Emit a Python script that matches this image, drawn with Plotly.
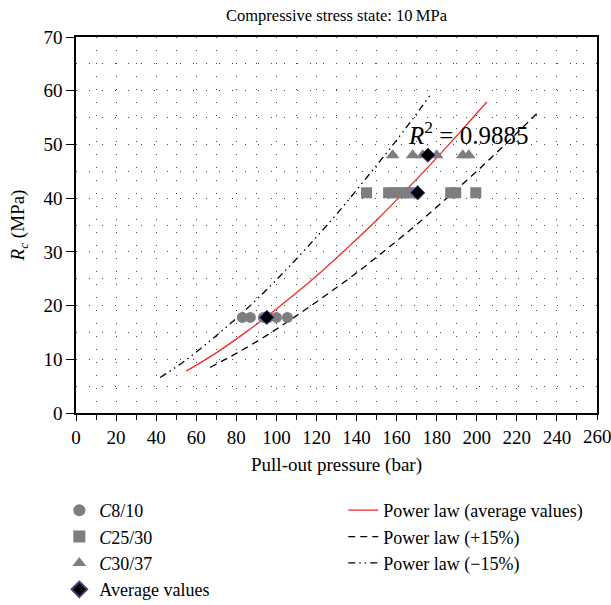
import plotly.graph_objects as go

# ---- data ----
c8_x = [83, 87, 93.5, 96, 100, 105.5]
c8_y = [17.8, 17.8, 17.8, 17.8, 17.8, 17.8]

c25_x = [145, 156, 159, 162, 165, 167, 187, 189.5, 199.5]
c25_y = [41, 41, 41, 41, 41, 41, 41, 41, 41]

c30_x = [158, 168, 173, 180, 193, 196]
c30_y = [48, 48, 48, 48, 48, 48]

avg_x = [95.2, 170.5, 175.6]
avg_y = [17.8, 41.0, 48.0]

pl_x = [55, 70, 85, 95, 110, 120, 135, 150, 165, 180, 195, 205]
pl_y = [7.8, 11.2, 15.1, 17.9, 22.4, 25.5, 30.6, 35.9, 41.6, 47.5, 53.7, 57.9]

plus_x = [67, 80, 95, 110, 125, 140, 155, 170, 185, 200, 215, 231.5]
plus_y = [8.5, 11.1, 14.4, 18.1, 22.0, 26.1, 30.5, 35.1, 40.0, 45.0, 50.3, 56.3]

minus_x = [42, 55, 70, 85, 100, 115, 130, 145, 160, 177.6]
minus_y = [6.6, 9.9, 14.4, 19.3, 24.8, 30.7, 37.0, 43.8, 50.8, 59.6]

x_tick_vals = [0, 20, 40, 60, 80, 100, 120, 140, 160, 180, 200, 220, 240, 260]

r2_text = "<i>R</i><sup>2</sup> = 0.9885"
title_text = "Compressive stress state: 10\u2009MPa"

FONT = "Liberation Serif"
GRAY = "#7d7d82"

fig = go.Figure()

fig.add_trace(go.Scatter(x=pl_x, y=pl_y, mode="lines", line=dict(color="#ee2a2a", width=1.3, shape="spline"),
                         name="Power law (average values)", legend="legend2"))
fig.add_trace(go.Scatter(x=plus_x, y=plus_y, mode="lines", line=dict(color="black", width=1.3, dash="7px,5px", shape="spline"),
                         name="Power law (+15%)", legend="legend2"))
fig.add_trace(go.Scatter(x=minus_x, y=minus_y, mode="lines",
                         line=dict(color="black", width=1.3, dash="7px,4px,1.5px,4px,1.5px,4px", shape="spline"),
                         name="Power law (\u221215%)", legend="legend2"))

fig.add_trace(go.Scatter(x=c8_x, y=c8_y, mode="markers", marker=dict(symbol="circle", size=11, color=GRAY),
                         name="<i>C</i>8/10", legend="legend"))
fig.add_trace(go.Scatter(x=c25_x, y=c25_y, mode="markers", marker=dict(symbol="square", size=11, color=GRAY),
                         name="<i>C</i>25/30", legend="legend"))
fig.add_trace(go.Scatter(x=c30_x, y=c30_y, mode="markers", marker=dict(symbol="triangle-up", size=12, color=GRAY),
                         name="<i>C</i>30/37", legend="legend"))
fig.add_trace(go.Scatter(x=avg_x, y=avg_y, mode="markers",
                         marker=dict(symbol="diamond", size=11, color="black", line=dict(color="#4a3c8c", width=1)),
                         name="Average values", legend="legend"))

fig.add_annotation(x=195.5, y=52.2, text=r2_text, showarrow=False, xref="x", yref="y",
                   font=dict(family=FONT, size=25, color="black"))

# last x tick label sits at the page edge (as in the reference), drawn as a text label
fig.add_annotation(x=1.0, y=0, xref="paper", yref="paper", text=str(x_tick_vals[-1]), showarrow=False,
                   xanchor="center", yanchor="top", yshift=-11, font=dict(family=FONT, size=19, color="black"))

fig.update_layout(
    width=611, height=605,
    margin=dict(l=76, r=14, t=37, b=192, autoexpand=False),
    paper_bgcolor="white", plot_bgcolor="white",
    font=dict(family=FONT, size=19, color="black"),
    title=dict(text=title_text, x=(76 + 597) / 2 / 611, xanchor="center", y=1 - 15 / 605, yanchor="middle",
               font=dict(family=FONT, size=16.5, color="black")),
    legend=dict(x=-0.032, y=-0.210, xanchor="left", yanchor="top", bgcolor="rgba(0,0,0,0)",
                font=dict(family=FONT, size=18), tracegroupgap=0, itemsizing="constant"),
    legend2=dict(x=0.513, y=-0.210, xanchor="left", yanchor="top", bgcolor="rgba(0,0,0,0)",
                 font=dict(family=FONT, size=18), tracegroupgap=0),
    showlegend=True,
)

fig.update_xaxes(
    range=[0, 260], tickvals=x_tick_vals[:-1], ticks="outside", ticklen=6, tickwidth=1.2, tickcolor="black",
    showline=True, linecolor="black", linewidth=1.5, mirror=True, zeroline=False,
    showgrid=False,
    minor=dict(dtick=10, ticks="outside", ticklen=5, tickwidth=1, tickcolor="black",
               showgrid=True, gridcolor="#444", griddash="1px,12px", gridwidth=1),
    title=dict(text="Pull-out pressure (bar)", font=dict(family=FONT, size=19), standoff=11),
    tickfont=dict(family=FONT, size=19),
)
fig.update_yaxes(
    range=[0, 70], dtick=10, ticks="outside", ticklen=8, tickwidth=1.2, tickcolor="black",
    showline=True, linecolor="black", linewidth=1.5, mirror=True, zeroline=False,
    showgrid=True, gridcolor="#444", griddash="1px,12px", gridwidth=1,
    minor=dict(dtick=5, ticks="", showgrid=True, gridcolor="#444", griddash="1px,12px", gridwidth=1),
    title=dict(text="<i>R</i><sub><i>c</i></sub> (MPa)", font=dict(family=FONT, size=19), standoff=14),
    tickfont=dict(family=FONT, size=19),
)

fig.write_html("out.html")
